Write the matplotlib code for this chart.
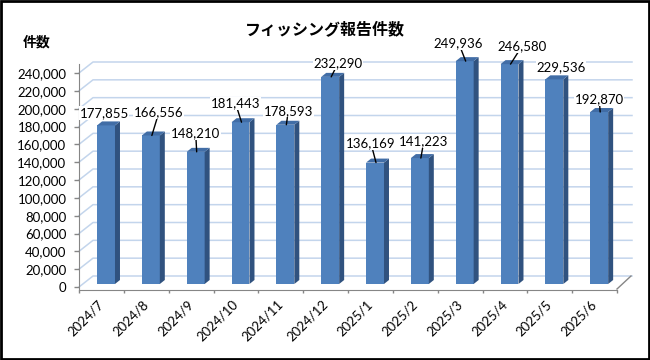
import matplotlib
matplotlib.use("Agg")
import matplotlib.pyplot as plt
from matplotlib.patches import Polygon, Rectangle
from matplotlib.ticker import FuncFormatter

# ---- data ----
months = ['2024/7', '2024/8', '2024/9', '2024/10', '2024/11', '2024/12',
          '2025/1', '2025/2', '2025/3', '2025/4', '2025/5', '2025/6']
counts = [177855, 166556, 148210, 181443, 178593, 232290,
          136169, 141223, 249936, 246580, 229536, 192870]
y_ticks = list(range(0, 240001, 20000))
title = 'フィッシング報告件数'
y_title = '件数'

# ---- layout (pixels) ----
W, H = 650, 360
AX_L, AX_R, AX_B, AX_T = 79, 617, 287, 73   # image px (y down)
# label offsets from bar top (image px, y down)
label_off = [(-2, -12.5), (8, -23), (0, -19), (-5, -19), (3, -14), (8, -14),
             (-4, -19), (4, -17), (-6, -18), (12.5, -18), (6.5, -12), (0, -13)]
leader = [False, True, True, True, True, True, True, True, True, True, False, True]

FRONT = '#4F81BD'
SIDE = '#30527F'
TOP = '#416DA6'
GRID = '#C3D5EC'
AXC = '#868686'
NUMFONT = ['Lato', 'DejaVu Sans']
JPFONT = ['Noto Sans CJK JP', 'DejaVu Sans']

fig = plt.figure(figsize=(W / 100, H / 100), dpi=100)
fig.patch.set_facecolor('white')
ax = fig.add_axes([AX_L / W, (H - AX_B) / H, (AX_R - AX_L) / W, (AX_B - AX_T) / H])
n = len(months)
ymax = y_ticks[-1]
ax.set_xlim(0, n)
ax.set_ylim(0, ymax)
ax.set_facecolor('none')

px_x = (AX_R - AX_L) / n
px_y = (AX_B - AX_T) / ymax


def dxu(p):
    return p / px_x


def dyu(p):
    return p / px_y


wall_x, wall_y = dxu(14), dyu(11)
fx, fy = dxu(4.6), dyu(3)
bx, by = dxu(9.6), dyu(7)
half = 0.2

# gridlines on the back wall (with left diagonal)
for t in y_ticks:
    ax.plot([0, wall_x, n + wall_x + dxu(1)], [t, t + wall_y, t + wall_y],
            color=GRID, lw=1.1, zorder=1, clip_on=False)
# right floor diagonal
ax.plot([n, n + wall_x], [-dyu(2), wall_y], color=AXC, lw=1, zorder=1, clip_on=False)

# bars
for i, v in enumerate(counts):
    x0 = i + 0.5 - half
    x1 = i + 0.5 + half
    front = Polygon([(x0 + fx, fy), (x1 + fx, fy), (x1 + fx, v + fy), (x0 + fx, v + fy)],
                    closed=True, facecolor=FRONT, edgecolor='none', zorder=3, clip_on=False)
    side = Polygon([(x1 + fx, fy), (x1 + bx, by), (x1 + bx, v + by), (x1 + fx, v + fy)],
                   closed=True, facecolor=SIDE, edgecolor='none', zorder=3, clip_on=False)
    top = Polygon([(x0 + fx, v + fy), (x1 + fx, v + fy), (x1 + bx, v + by), (x0 + bx, v + by)],
                  closed=True, facecolor=TOP, edgecolor='none', zorder=3, clip_on=False)
    for p in (front, side, top):
        ax.add_patch(p)

    ox, oy = label_off[i]
    props = dict(arrowstyle='-', color='black', lw=1, shrinkA=0, shrinkB=0) if leader[i] else None
    ax.annotate(f'{v:,}', xy=(i + 0.5 + fx + dxu(1), v + fy), xycoords='data',
                xytext=(ox - 1, -oy), textcoords='offset pixels',
                ha='center', va='center', fontsize=9.5, family=NUMFONT, color='black',
                bbox=dict(facecolor='white', edgecolor='none', pad=0.5),
                arrowprops=props, zorder=5, annotation_clip=False)

# axes styling
for s in ('top', 'right'):
    ax.spines[s].set_visible(False)
ax.spines['left'].set_color(AXC)
ax.spines['left'].set_bounds(-dyu(3), ymax + dyu(9))
ax.spines['bottom'].set_color(AXC)
ax.spines['bottom'].set_position(('outward', 3 * 0.72))
ax.set_yticks(y_ticks)
ax.yaxis.set_major_formatter(FuncFormatter(lambda v, p: f'{int(v):,}'))
ax.tick_params(axis='y', direction='out', length=3.6, width=1, color=AXC, pad=5.5,
               labelsize=9.5, labelcolor='black')
for lbl in ax.get_yticklabels():
    lbl.set_family(NUMFONT)
ax.set_xticks(range(n + 1))
ax.tick_params(axis='x', direction='out', length=2.5, width=1, color=AXC, labelbottom=False)

# x category labels, rotated
import matplotlib.transforms as mtransforms
lt = mtransforms.offset_copy(ax.transData, fig=fig, x=4.6, y=-11, units='dots')
for i, m in enumerate(months):
    ax.text(i + 0.5, 0, m, transform=lt, rotation=45, ha='right', va='top',
            fontsize=9.5, family=NUMFONT, color='black', clip_on=False)

# titles
fig.text(325 / W, 1 - 29 / H, title, ha='center', va='center', fontsize=11.5,
         fontweight='bold', family=JPFONT)
fig.text(37 / W, 1 - 43 / H, y_title, ha='center', va='center', fontsize=10,
         fontweight='bold', family=JPFONT)

# outer frame
fig.patches.append(Rectangle((0.0015, 0.003), 0.997, 0.994, transform=fig.transFigure,
                             fill=False, edgecolor='black', lw=2))

fig.savefig('out.png', dpi=100, facecolor='white')
